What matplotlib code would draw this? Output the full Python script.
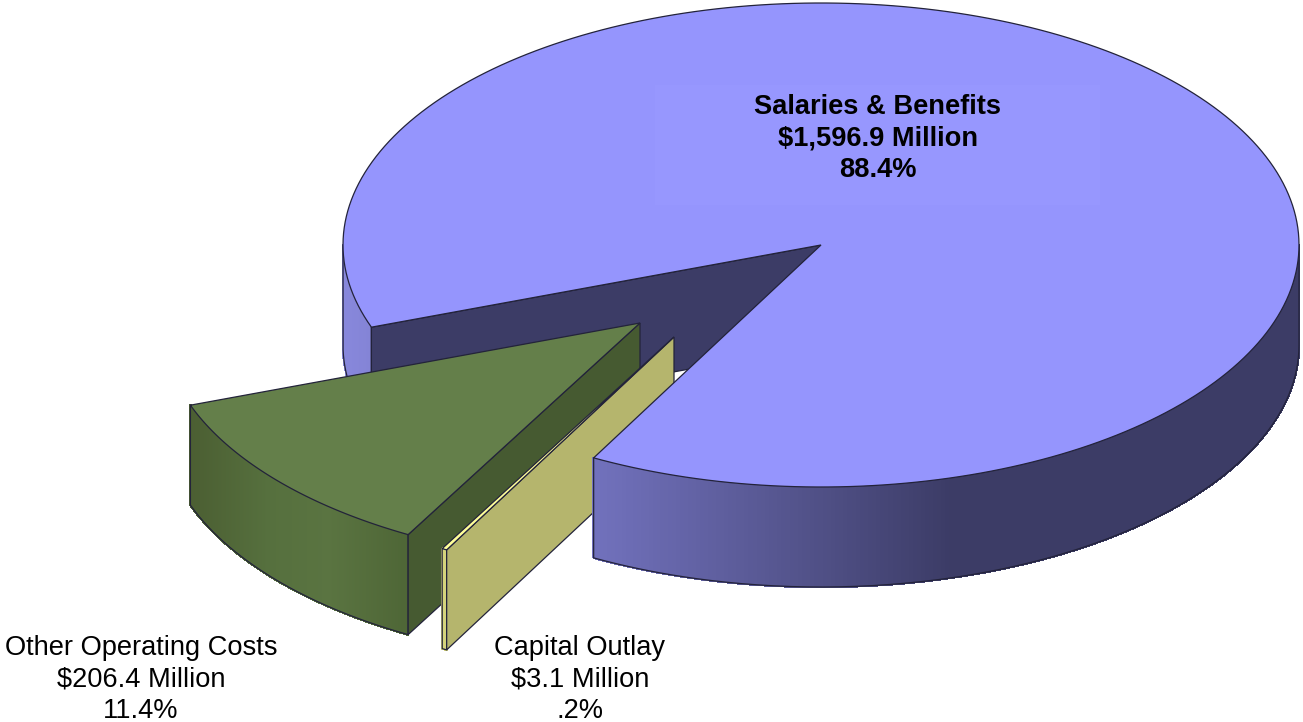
#!/usr/bin/python3
import matplotlib
matplotlib.use('Agg')

import numpy as np
import matplotlib.pyplot as plt
from matplotlib.collections import PolyCollection
from matplotlib.colors import to_rgb
from matplotlib.patches import Polygon, Rectangle

# budget figures
categories = ["Other Operating Costs", "Capital Outlay", "Salaries & Benefits"]
amounts = [206.4, 3.1, 1596.9]
amount_labels = ["$206.4 Million", "$3.1 Million", "$1,596.9 Million"]
percent_labels = ["11.4%", ".2%", "88.4%"]

W, H = 1303, 722
CX, CY = 821, 245     # centre of the main disc
RX, RY = 478, 242     # ellipse radii of the top face
DEPTH = 100           # thickness of the disc
START = 199.85        # angle where the first slice begins
EDGE = '#23233a'

plt.rcParams['font.family'] = ['Liberation Sans', 'DejaVu Sans']

fig = plt.figure(figsize=(W / 100, H / 100), dpi=100)
ax = fig.add_axes([0, 0, 1, 1])
ax.set_xlim(0, W)
ax.set_ylim(H, 0)
ax.axis('off')

shares = np.array(amounts) / sum(amounts) * 360
bounds = START + np.concatenate([[0], np.cumsum(shares)])


def arc(a0, a1, cx, cy, n=240):
    t = np.radians(np.linspace(a0, a1, n))
    # screen y runs downwards, so the sine is flipped
    return np.column_stack([cx + RX * np.cos(t), cy - RY * np.sin(t)])


def rim(a0, a1, cx, cy, stops, z):
    # outer wall built from thin quads so the shading can vary along x
    pts = arc(a0, a1, cx, cy)
    quads = []
    cols = []
    xs, rgb = zip(*[(s[0], to_rgb(s[1])) for s in stops])
    rgb = np.array(rgb)
    for p, q in zip(pts[:-1], pts[1:]):
        quads.append([p, q, q + [0, DEPTH], p + [0, DEPTH]])
        mx = (p[0] + q[0]) / 2 - cx
        cols.append([np.interp(mx, xs, rgb[:, i]) for i in range(3)])
    ax.add_collection(PolyCollection(quads, facecolors=cols, edgecolors=cols,
                                     linewidths=1.0, antialiaseds=False, zorder=z))
    outline = np.vstack([pts[0], pts + [0, DEPTH], pts[-1]])
    ax.plot(outline[:, 0], outline[:, 1], color=EDGE, lw=0.9, zorder=z + 0.1)


def wall(angle, cx, cy, color, z):
    # flat cut face running from the apex out to the rim
    outer = arc(angle, angle, cx, cy, 1)[0]
    apex = np.array([cx, cy])
    ax.add_patch(Polygon([apex, outer, outer + [0, DEPTH], apex + [0, DEPTH]],
                         closed=True, fc=color, ec=EDGE, lw=0.9, zorder=z))


def top(a0, a1, cx, cy, color, z, ec=EDGE):
    pts = np.vstack([[cx, cy], arc(a0, a1, cx, cy)])
    ax.add_patch(Polygon(pts, closed=True, fc=color, ec=ec, lw=0.9, zorder=z))


other_a0, other_a1 = bounds[0], bounds[1]
cap_a0, cap_a1 = bounds[1], bounds[2]
main_a0, main_a1 = bounds[2], bounds[3]

# main disc, back parts first
rim(180, other_a0, CX, CY, [(-478, '#8888dc'), (-450, '#8484d6')], 1)
wall(other_a0, CX, CY, '#3c3c66', 2)

# exploded slice, large
gx, gy = CX - 181, CY + 78
rim(other_a0, other_a1, gx, gy,
    [(-450, '#4b5e32'), (-370, '#56703e'), (-310, '#5a7441'), (-230, '#4e6636')], 3)
wall(other_a1, gx, gy, '#465a31', 4)
top(other_a0, other_a1, gx, gy, '#647f4a', 5)

# exploded slice, thin
yx, yy = CX - 147, CY + 92
rim(cap_a0, cap_a1, yx, yy, [(-240, '#d4d47c'), (-225, '#d4d47c')], 6)
wall(cap_a1, yx, yy, '#b5b56d', 7)
top(cap_a0, cap_a1, yx, yy, '#ffff99', 8)

# main disc, front parts over the slices
rim(main_a0, 360, CX, CY,
    [(-230, '#7272be'), (-40, '#565690'), (130, '#3c3c66'), (478, '#3c3c66')], 9)
top(main_a0, main_a1, CX, CY, '#9595fd', 10)

# faint panel behind the main label
ax.add_patch(Rectangle((655, 85), 445, 120, fc='#9797fe', ec='none', zorder=11))

label_pos = [(141, 648), (580, 648), (878, 107)]
for i, (x, y) in enumerate(label_pos):
    for j, s in enumerate([categories[i], amount_labels[i], percent_labels[i]]):
        ax.text(x, y + j * 31.3, s, ha='center', va='center', fontsize=19.6,
                color='black', fontweight='bold' if i == 2 else 'normal', zorder=12)

plt.savefig('out.png', dpi=100, facecolor='white')
